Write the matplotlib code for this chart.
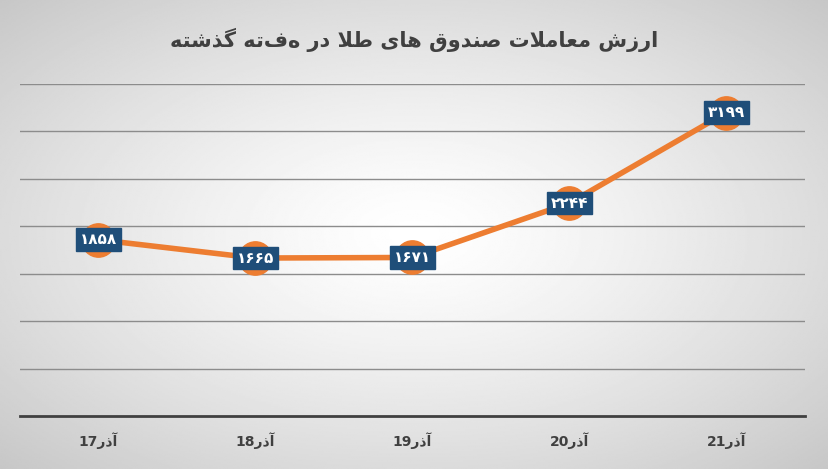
import matplotlib
matplotlib.use("Agg")
import matplotlib.pyplot as plt
import numpy as np

# minimal Arabic/Persian shaping: letter -> (isolated, final, initial, medial)
FORMS = {
    'ا': ('\uFE8D', '\uFE8E'), 'آ': ('\uFE81', '\uFE82'),
    'ر': ('\uFEAD', '\uFEAE'), 'ز': ('\uFEAF', '\uFEB0'),
    'ژ': ('\uFB8A', '\uFB8B'), 'د': ('\uFEA9', '\uFEAA'),
    'ذ': ('\uFEAB', '\uFEAC'), 'و': ('\uFEED', '\uFEEE'),
    'ش': ('\uFEB5', '\uFEB6', '\uFEB7', '\uFEB8'),
    'م': ('\uFEE1', '\uFEE2', '\uFEE3', '\uFEE4'),
    'ع': ('\uFEC9', '\uFECA', '\uFECB', '\uFECC'),
    'ل': ('\uFEDD', '\uFEDE', '\uFEDF', '\uFEE0'),
    'ت': ('\uFE95', '\uFE96', '\uFE97', '\uFE98'),
    'ص': ('\uFEB9', '\uFEBA', '\uFEBB', '\uFEBC'),
    'ن': ('\uFEE5', '\uFEE6', '\uFEE7', '\uFEE8'),
    'ق': ('\uFED5', '\uFED6', '\uFED7', '\uFED8'),
    'ه': ('\uFEE9', '\uFEEA', '\uFEEB', '\uFEEC'),
    'ی': ('\uFBFC', '\uFBFD', '\uFBFE', '\uFBFF'),
    'ط': ('\uFEC1', '\uFEC2', '\uFEC3', '\uFEC4'),
    'گ': ('\uFB92', '\uFB93', '\uFB94', '\uFB95'),
    'LA': ('\uFEFB', '\uFEFC'),
}


def shape(text):
    chars = []
    i = 0
    while i < len(text):
        if text[i] == 'ل' and i + 1 < len(text) and text[i + 1] == 'ا':
            chars.append('LA')
            i += 2
        else:
            chars.append(text[i])
            i += 1
    out = []
    for k, c in enumerate(chars):
        if c not in FORMS:
            out.append(c)
            continue
        prev = chars[k - 1] if k > 0 else None
        nxt = chars[k + 1] if k + 1 < len(chars) else None
        joins_prev = prev in FORMS and len(FORMS[prev]) == 4
        joins_next = nxt in FORMS and len(FORMS[c]) == 4
        f = FORMS[c]
        if joins_prev and joins_next:
            out.append(f[3])
        elif joins_prev:
            out.append(f[1])
        elif joins_next:
            out.append(f[2])
        else:
            out.append(f[0])
    return ''.join(out)[::-1]


title = "ارزش معاملات صندوق های طلا در هفته گذشته"
days = ["17", "18", "19", "20", "21"]
month = "آذر"
values = [1858, 1665, 1671, 2244, 3199]
value_labels = ["۱۸۵۸", "۱۶۶۵", "۱۶۷۱", "۲۲۴۴", "۳۱۹۹"]

plt.rcParams['font.family'] = ['DejaVu Sans', 'Noto Sans']

fig = plt.figure(figsize=(8.29, 4.69), dpi=100)

# radial gradient background
bg = fig.add_axes([0, 0, 1, 1], zorder=0)
yy, xx = np.mgrid[-1:1:300j, -1:1:500j]
r = np.sqrt(xx ** 2 + yy ** 2) / np.sqrt(2)
bg.imshow(1 - 0.22 * r ** 1.3, cmap='gray', vmin=0, vmax=1, aspect='auto', extent=[0, 1, 0, 1])
bg.axis('off')

ax = fig.add_axes([0.024, 0.113, 0.947, 0.708], zorder=1)
ax.patch.set_alpha(0)
x = np.arange(len(values))
ax.plot(x, values, color='#ED7D31', lw=4, marker='o', ms=24, zorder=3)
for xi, v, lab in zip(x, values, value_labels):
    ax.text(xi, v, lab, ha='center', va='center', color='white', fontsize=11,
            fontweight='bold', zorder=4,
            bbox=dict(boxstyle='square,pad=0.25', fc='#1F4E79', ec='#1F4E79'))

ax.set_xlim(-0.5, len(values) - 0.5)
ax.set_ylim(0, 3500)
ax.set_yticks(np.arange(500, 3501, 500))
ax.yaxis.grid(True, color='#8c8c8c', lw=1)
ax.set_axisbelow(True)
ax.tick_params(axis='y', left=False, labelleft=False)
ax.tick_params(axis='x', length=0, pad=12)
ax.set_xticks(x)
ax.set_xticklabels([d + shape(month) for d in days], fontsize=10,
                   fontweight='bold', color='#404040')
for s in ['top', 'right', 'left']:
    ax.spines[s].set_visible(False)
ax.spines['bottom'].set_color('#404040')
ax.spines['bottom'].set_linewidth(2)

fig.text(0.5, 0.915, shape(title), ha='center', va='center', fontsize=15,
         fontweight='bold', color='#404040')

fig.savefig('out.png', dpi=100)
